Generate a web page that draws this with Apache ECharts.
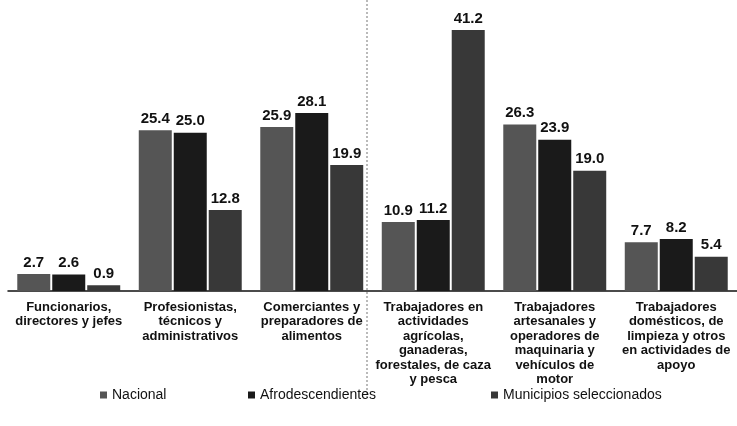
<!DOCTYPE html>
<html>
<head>
<meta charset="utf-8">
<script src="https://cdn.jsdelivr.net/npm/echarts@6/dist/echarts.min.js"></script>
<style>
html,body{margin:0;padding:0;background:#fff;}
#c{width:737px;height:426px;}
</style>
</head>
<body>
<div id="c"></div>
<script>
const categories = [
  "Funcionarios,\ndirectores y jefes",
  "Profesionistas,\ntécnicos y\nadministrativos",
  "Comerciantes y\npreparadores de\nalimentos",
  "Trabajadores en\nactividades\nagrícolas,\nganaderas,\nforestales, de caza\ny pesca",
  "Trabajadores\nartesanales y\noperadores de\nmaquinaria y\nvehículos de\nmotor",
  "Trabajadores\ndomésticos, de\nlimpieza y otros\nen actividades de\napoyo"
];
const seriesNames = ["Nacional", "Afrodescendientes", "Municipios seleccionados"];
const nacional = [2.7, 25.4, 25.9, 10.9, 26.3, 7.7];
const afrodescendientes = [2.6, 25.0, 28.1, 11.2, 23.9, 8.2];
const municipios = [0.9, 12.8, 19.9, 41.2, 19.0, 5.4];
const colors = ["#555555", "#1a1a1a", "#383838"];

const chart = echarts.init(document.getElementById('c'));
const font = "'Liberation Sans', Arial, sans-serif";
const mk = (name, data, color) => ({
  name: name,
  type: 'bar',
  data: data,
  barWidth: 33,
  barGap: '6%',
  itemStyle: { color: color },
  label: {
    show: true, position: 'top', distance: 4,
    formatter: p => p.value.toFixed(1),
    fontFamily: font, fontWeight: 'bold', fontSize: 15, color: '#111'
  }
});
const legendCommon = {
  icon: 'rect', itemWidth: 7, itemHeight: 7, itemGap: 4,
  top: 383,
  textStyle: { fontFamily: font, fontSize: 14, color: '#111' }
};
chart.setOption({
  animation: false,
  color: colors,
  grid: { left: 8, width: 736, top: 6, bottom: 135 },
  legend: [
    Object.assign({ left: 95, data: [seriesNames[0]] }, legendCommon),
    Object.assign({ left: 243, data: [seriesNames[1]] }, legendCommon),
    Object.assign({ left: 486, data: [seriesNames[2]] }, legendCommon)
  ],
  xAxis: {
    type: 'category',
    data: categories,
    axisLine: { lineStyle: { color: '#111', width: 1.5 } },
    axisTick: { show: false },
    axisLabel: {
      interval: 0, margin: 9,
      fontFamily: font, fontWeight: 'bold', fontSize: 13, lineHeight: 14.5, color: '#111'
    }
  },
  yAxis: { type: 'value', min: 0, max: 45, show: false, splitLine: { show: false } },
  graphic: [{
    type: 'line', shape: { x1: 367, y1: 0, x2: 367, y2: 400 },
    style: { stroke: '#777', lineWidth: 1, lineDash: [2, 2] }, z: -1
  }],
  series: [
    mk(seriesNames[0], nacional, colors[0]),
    mk(seriesNames[1], afrodescendientes, colors[1]),
    mk(seriesNames[2], municipios, colors[2])
  ]
});
</script>
</body>
</html>
